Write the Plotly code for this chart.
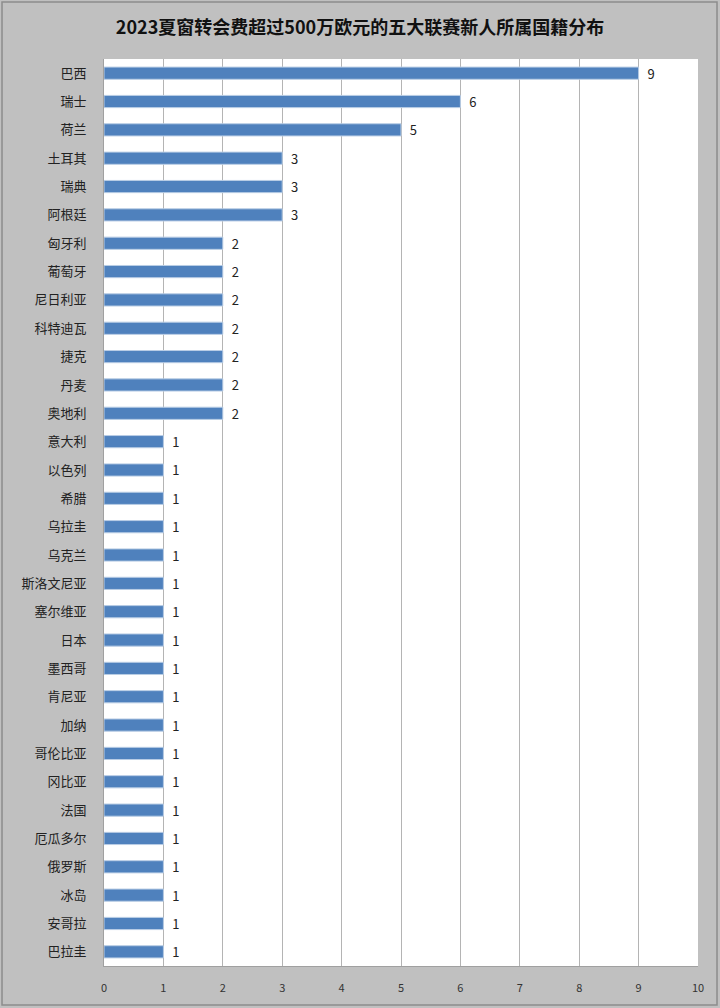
import plotly.graph_objects as go

title = "2023夏窗转会费超过500万欧元的五大联赛新人所属国籍分布"
countries = ["巴西", "瑞士", "荷兰", "土耳其", "瑞典", "阿根廷", "匈牙利", "葡萄牙",
             "尼日利亚", "科特迪瓦", "捷克", "丹麦", "奥地利", "意大利", "以色列", "希腊",
             "乌拉圭", "乌克兰", "斯洛文尼亚", "塞尔维亚", "日本", "墨西哥", "肯尼亚", "加纳",
             "哥伦比亚", "冈比亚", "法国", "厄瓜多尔", "俄罗斯", "冰岛", "安哥拉", "巴拉圭"]
counts = [9, 6, 5, 3, 3, 3, 2, 2, 2, 2, 2, 2, 2, 1, 1, 1, 1, 1, 1, 1, 1, 1, 1, 1,
          1, 1, 1, 1, 1, 1, 1, 1]
x_ticks = list(range(0, 11))

font_cjk = "Noto Sans CJK SC"

fig = go.Figure(go.Bar(
    y=countries, x=counts, orientation="h",
    marker=dict(color="#4F81BD", line=dict(color="#B9CDE5", width=1)),
    width=0.43,
    text=counts, texttemplate="  %{x}", textposition="outside", constraintext="none",
    textfont=dict(family=font_cjk, size=13, color="#222222"),
    cliponaxis=False,
))

fig.update_layout(
    width=720, height=1008,
    paper_bgcolor="#C0C0C0", plot_bgcolor="#FFFFFF",
    margin=dict(l=104, r=22, t=59, b=42),
    title=dict(text="<b>" + title + "</b>", x=0.5, xanchor="center", y=0.973, yanchor="middle",
               font=dict(family=font_cjk, size=18, color="#111111")),
    showlegend=False,
    bargap=0.57,
)
fig.update_xaxes(range=[0, 10], tickvals=x_ticks, showgrid=True, gridcolor="#B4B4B4", gridwidth=1,
                 showline=True, linecolor="#A0A0A0", linewidth=1, zeroline=False,
                 ticks="", ticklabelstandoff=12,
                 tickfont=dict(family=font_cjk, size=11, color="#333333"))
fig.update_yaxes(autorange="reversed", showgrid=False, showline=True, linecolor="#A0A0A0",
                 linewidth=1, ticks="", ticklabelstandoff=14,
                 tickfont=dict(family=font_cjk, size=13, color="#222222"))

fig.add_shape(type="rect", xref="paper", yref="paper",
              x0=-0.1717, x1=1.032, y0=-0.043, y1=1.0629,
              line=dict(color="#8C8C8C", width=1.5), fillcolor="rgba(0,0,0,0)", layer="below")

fig.write_html("out.html", config={"displayModeBar": False},
               post_script="document.body.style.margin='0';")
